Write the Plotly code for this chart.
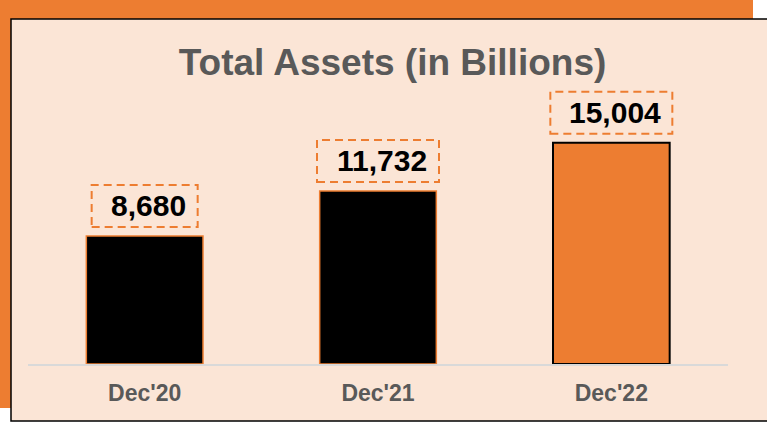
import plotly.graph_objects as go

categories = ["Dec'20", "Dec'21", "Dec'22"]
values = [8680, 11732, 15004]
value_labels = ["8,680", "11,732", "15,004"]

ORANGE = "#ED7D31"
PEACH = "#FBE5D6"
GREY = "#595959"
FONT = "Liberation Sans, Arial, sans-serif"

W, H = 767, 423
ML, MR, MT, MB = 28, 39, 69, 59
PW = W - ML - MR
PH = H - MT - MB


def px_x(px):
    return (px - ML) / PW


def px_y(py):
    return (H - MB - py) / PH


fill_colors = ["#000000", "#000000", ORANGE]
line_colors = [ORANGE, ORANGE, "#000000"]
line_widths = [1.5, 1.5, 2]

fig = go.Figure()
fig.add_trace(go.Bar(
    x=categories,
    y=values,
    width=0.5,
    marker=dict(color=fill_colors, line=dict(color=line_colors, width=line_widths)),
    hoverinfo="skip",
))

shapes = [
    # orange backdrop
    dict(type="rect", xref="paper", yref="paper", layer="below",
         x0=px_x(0), x1=px_x(753), y0=px_y(408), y1=px_y(0),
         fillcolor=ORANGE, line=dict(width=0)),
    # peach panel
    dict(type="rect", xref="paper", yref="paper", layer="below",
         x0=px_x(11), x1=px_x(780), y0=px_y(421), y1=px_y(19),
         fillcolor=PEACH, line=dict(color="#000000", width=1.5)),
]

annotations = []
for i, (cat, v, lab) in enumerate(zip(categories, values, value_labels)):
    half = 53 if len(lab) <= 5 else 61
    shapes.append(dict(
        type="rect", xref="x", yref="y",
        xsizemode="pixel", ysizemode="pixel",
        xanchor=i, yanchor=v,
        x0=-half, x1=half, y0=9, y1=51,
        line=dict(color=ORANGE, width=2, dash="8px,5px"),
        fillcolor="rgba(0,0,0,0)",
    ))
    annotations.append(dict(
        x=cat, y=v, xref="x", yref="y",
        text=lab, showarrow=False,
        xanchor="center", yanchor="middle",
        xshift=4, yshift=30,
        font=dict(family=FONT, size=30, color="#000000", weight="bold"),
    ))

fig.update_layout(
    width=W, height=H,
    margin=dict(l=ML, r=MR, t=MT, b=MB, pad=0),
    paper_bgcolor="#FFFFFF",
    plot_bgcolor="rgba(0,0,0,0)",
    showlegend=False,
    title=dict(
        text="Total Assets (in Billions)",
        x=392.5 / W, xanchor="center",
        y=1 - 62 / H, yanchor="middle",
        xref="container", yref="container",
        font=dict(family=FONT, size=37, color=GREY, weight="bold"),
    ),
    xaxis=dict(
        showgrid=False, zeroline=False,
        showline=True, linecolor="#D9D9D9", linewidth=2,
        ticks="outside", ticklen=7, tickcolor="rgba(0,0,0,0)",
        tickfont=dict(family=FONT, size=23, color=GREY, weight="bold"),
    ),
    yaxis=dict(
        range=[0, 20000], visible=False, showgrid=False, zeroline=False,
    ),
    shapes=shapes,
    annotations=annotations,
)

fig.write_html(
    "out.html",
    config={"displayModeBar": False},
    post_script="document.body.style.margin='0';document.body.style.overflow='hidden';",
)
